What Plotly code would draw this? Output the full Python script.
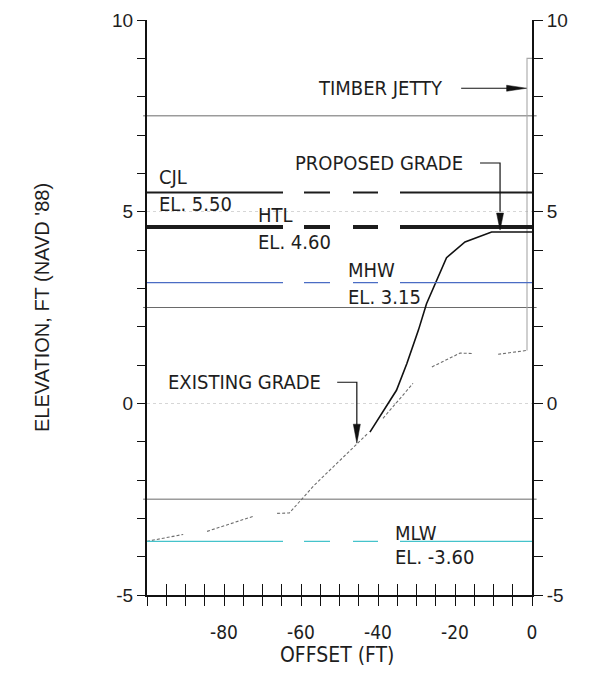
import plotly.graph_objects as go

# ---------------- data ----------------
x_range = [-100, 0]
y_range = [-5, 10]
x_tick_vals = [-80, -60, -40, -20, 0]
x_tick_text = ["-80", "-60", "-40", "-20", "0"]
y_tick_vals = [-5, 0, 5, 10]
y_tick_text = ["-5", "0", "5", "10"]

# tidal datum levels
level_names = ["CJL", "HTL", "MHW", "MLW"]
level_values = [5.50, 4.60, 3.15, -3.60]
level_labels = ["EL. 5.50", "EL. 4.60", "EL. 3.15", "EL. -3.60"]

# thin reference lines
ref_line_values = [7.5, 2.5, -2.5]

# existing grade profile (gaps = None)
existing_x = [-100, -90.6, None, -84.4, -72.5, None, -66.2, -63.0, -56.8, -49.9, -45.5, -42.6,
              None, -38.7, -30.9, None, -26.0, -18.7, -15.3, None, -8.8, -4.4, -1.4]
existing_y = [-3.60, -3.42, None, -3.34, -2.95, None, -2.87, -2.86, -2.16, -1.49, -1.04, -0.78,
              None, -0.39, 0.52, None, 0.95, 1.31, 1.30, None, 1.28, 1.34, 1.38]

# proposed grade profile
proposed_x = [-42.1, -35.2, -32.5, -29.5, -27.4, -24.8, -22.2, -17.4, -10.5, 0]
proposed_y = [-0.75, 0.34, 1.04, 1.91, 2.60, 3.21, 3.80, 4.21, 4.47, 4.47]

# timber jetty outline
jetty_x = [0, -1.3, -1.3]
jetty_y = [9.0, 9.0, 1.38]

# ---------------- styles / layout helpers ----------------
level_colors = ["#1c1c1c", "#1c1c1c", "#4a6cc4", "#45c3cb"]
level_widths = [2.2, 4.0, 1.3, 1.3]
level_dash = "136px,21px,26px,23px,25px,22px,150px"
level_name_pos = [(-97.4, 5.90), (-71.7, 4.91), (-48.3, 3.47), (-36.1, -3.37)]
level_label_pos = [(-97.4, 5.20), (-71.7, 4.20), (-48.3, 2.77), (-36.1, -4.02)]

ann_font = dict(family="DejaVu Sans Condensed, DejaVu Sans, sans-serif", size=20, color="#1e1e1e")
tick_font_y = dict(family="Liberation Sans, Arial, sans-serif", size=19, color="#1e1e1e")
tick_font_x = dict(family="DejaVu Sans Condensed, DejaVu Sans, sans-serif", size=19, color="#1e1e1e")

fig = go.Figure()

# existing grade
fig.add_trace(go.Scatter(x=existing_x, y=existing_y, mode="lines",
                         line=dict(color="#6e6e6e", width=1.1, dash="3px,2px"),
                         connectgaps=False, hoverinfo="skip"))
# jetty
fig.add_trace(go.Scatter(x=jetty_x, y=jetty_y, mode="lines",
                         line=dict(color="#a8a8a8", width=1.1), hoverinfo="skip"))
# proposed grade
fig.add_trace(go.Scatter(x=proposed_x, y=proposed_y, mode="lines",
                         line=dict(color="#111111", width=1.6), hoverinfo="skip"))
# dummy trace for overlay axes
fig.add_trace(go.Scatter(x=[None], y=[None], xaxis="x2", yaxis="y2", hoverinfo="skip"))

shapes = []
for v in ref_line_values:
    shapes.append(dict(type="line", xref="paper", x0=-0.01, x1=1.012, yref="y", y0=v, y1=v,
                       line=dict(color="#6a6a6a", width=1), layer="below"))
for v, c, w in zip(level_values, level_colors, level_widths):
    shapes.append(dict(type="line", xref="x", x0=x_range[0], x1=x_range[1], yref="y", y0=v, y1=v,
                       line=dict(color=c, width=w, dash=level_dash)))

# leaders
shapes.append(dict(type="line", xref="x", yref="y", x0=-18.4, x1=-4.0, y0=8.22, y1=8.22,
                   line=dict(color="#111", width=1.2)))
shapes.append(dict(type="path", xref="x", yref="y", path="M-13.5,6.27 L-8.3,6.27 L-8.3,5.0",
                   line=dict(color="#111", width=1.2)))
shapes.append(dict(type="path", xref="x", yref="y", path="M-50.6,0.55 L-45.5,0.55 L-45.5,-0.6",
                   line=dict(color="#111", width=1.2)))
# arrow heads (pixel-sized)
heads = [(-1.4, 8.22, "M0,0 L-20,3 L-20,-3 Z"),
         (-8.3, 4.52, "M0,0 L-3.5,17 L3.5,17 Z"),
         (-45.5, -1.04, "M0,0 L-3.5,19 L3.5,19 Z")]
for hx, hy, p in heads:
    shapes.append(dict(type="path", xref="x", yref="y", xsizemode="pixel", ysizemode="pixel",
                       xanchor=hx, yanchor=hy, path=p, fillcolor="#111",
                       line=dict(color="#111", width=0.5)))

annotations = []
for name, lab, (nx, ny), (lx, ly) in zip(level_names, level_labels, level_name_pos, level_label_pos):
    annotations.append(dict(x=nx, y=ny, text=name, showarrow=False, xanchor="left", yanchor="middle",
                            font=ann_font))
    annotations.append(dict(x=lx, y=ly, text=lab, showarrow=False, xanchor="left", yanchor="middle",
                            font=ann_font))
annotations.append(dict(x=-22.6, y=8.22, text="TIMBER JETTY", showarrow=False, xanchor="right",
                        yanchor="middle", font=ann_font))
annotations.append(dict(x=-17.5, y=6.27, text="PROPOSED GRADE", showarrow=False, xanchor="right",
                        yanchor="middle", font=ann_font))
annotations.append(dict(x=-95.1, y=0.55, text="EXISTING GRADE", showarrow=False, xanchor="left",
                        yanchor="middle", font=ann_font))
# axis titles
annotations.append(dict(xref="paper", yref="paper", x=0.496, y=-0.104, text="OFFSET (FT)",
                        showarrow=False, xanchor="center", yanchor="middle",
                        font=dict(family="DejaVu Sans Condensed, DejaVu Sans, sans-serif", size=21,
                                  color="#1e1e1e")))
annotations.append(dict(xref="paper", yref="paper", x=-0.274, y=0.5, text="ELEVATION, FT (NAVD '88)",
                        textangle=-90, showarrow=False, xanchor="center", yanchor="middle",
                        font=dict(family="Liberation Sans, Arial, sans-serif", size=20, color="#1e1e1e")))

fig.update_layout(
    width=589, height=677,
    margin=dict(l=139, r=65, t=12, b=90, autoexpand=False),
    paper_bgcolor="white", plot_bgcolor="white",
    showlegend=False,
    shapes=shapes, annotations=annotations,
    xaxis=dict(range=x_range, tickmode="array", tickvals=x_tick_vals, ticktext=x_tick_text,
               ticks="outside", ticklen=9, tickwidth=1.3, tickcolor="#111",
               minor=dict(tickmode="linear", tick0=0, dtick=5, ticks="outside", ticklen=9,
                          tickwidth=1.3, tickcolor="#111"),
               showline=True, linecolor="#111", linewidth=2, showgrid=False, zeroline=False,
               tickfont=tick_font_x, ticklabelstandoff=10, automargin=False),
    xaxis2=dict(range=x_range, overlaying="x", anchor="y", side="bottom",
                tickmode="array", tickvals=x_tick_vals, showticklabels=False,
                ticks="inside", ticklen=11, tickwidth=1.3, tickcolor="#111",
                minor=dict(tickmode="linear", tick0=0, dtick=5, ticks="inside", ticklen=11,
                           tickwidth=1.3, tickcolor="#111"),
                showline=False, showgrid=False, zeroline=False, automargin=False),
    yaxis=dict(range=y_range, tickmode="array", tickvals=y_tick_vals, ticktext=y_tick_text,
               ticks="outside", ticklen=8, tickwidth=1.3, tickcolor="#111",
               minor=dict(tickmode="linear", tick0=0, dtick=1, ticks="outside", ticklen=8,
                          tickwidth=1.3, tickcolor="#111", showgrid=False),
               showline=True, linecolor="#111", linewidth=2,
               showgrid=True, gridcolor="#d6d6d6", griddash="dot", gridwidth=1, zeroline=False,
               tickfont=tick_font_y, automargin=False),
    yaxis2=dict(range=y_range, overlaying="y", anchor="x", side="right",
                tickmode="array", tickvals=y_tick_vals, ticktext=y_tick_text,
                ticks="outside", ticklen=9, tickwidth=1.3, tickcolor="#111",
                minor=dict(tickmode="linear", tick0=0, dtick=1, ticks="outside", ticklen=9,
                           tickwidth=1.3, tickcolor="#111", showgrid=False),
                showline=True, linecolor="#111", linewidth=2, showgrid=False, zeroline=False,
                tickfont=tick_font_y, automargin=False),
)

fig.write_html("out.html")
